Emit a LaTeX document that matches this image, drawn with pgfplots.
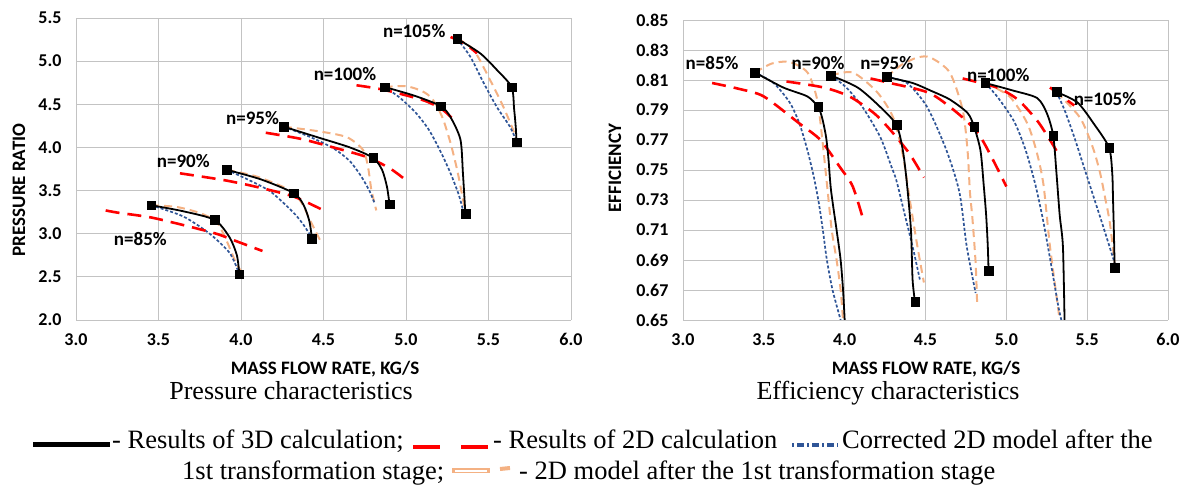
\documentclass[border=0pt]{standalone}
\usepackage{pgfplots}
\pgfplotsset{compat=1.18}
\usepackage{fontspec}
\setmainfont{Liberation Serif}
\newfontfamily\calib{Carlito}
\definecolor{gridgray}{RGB}{195,195,195}
\definecolor{cblue}{RGB}{47,85,151}
\definecolor{corange}{RGB}{244,177,131}
\definecolor{cred}{RGB}{255,0,0}
\tikzset{lbl/.style={font=\calib\bfseries\fontsize{19}{19}\selectfont, inner sep=0pt}}
\pgfplotsset{
  mystyle/.style={scale only axis, grid=major, grid style={gridgray, line width=0.9pt},
    axis line style={draw=none}, major tick length=0pt,
    tick label style={font=\calib\bfseries\fontsize{18}{18}\selectfont},
    /pgf/number format/assume math mode=true,
    xtick={3,3.5,4,4.5,5,5.5,6}, xmin=3, xmax=6,
    xticklabel style={yshift=-10pt, /pgf/number format/.cd, fixed, fixed zerofill, precision=1},
    yticklabel style={xshift=-11pt},
    clip=true},
  black3d/.style={black, line width=1.8pt, smooth, tension=0.45, no marks},
  red2d/.style={cred, line width=2.6pt, dash pattern=on 14pt off 8pt, smooth, tension=0.45, no marks},
  blue2d/.style={cblue, line width=1.7pt, dash pattern=on 3pt off 2pt, smooth, tension=0.45, no marks},
  orange2d/.style={corange, line width=2pt, dash pattern=on 8pt off 5pt, smooth, tension=0.45, no marks},
  sq/.style={only marks, mark=square*, mark size=4.3pt, black},
}
\begin{document}
\begin{tikzpicture}[x=1pt,y=1pt]
\useasboundingbox (0,0) rectangle (1188,489);
% ---------------- Pressure ----------------
\begin{axis}[mystyle, at={(76pt,169pt)}, anchor=south west, width=495pt, height=302pt,
  ymin=2, ymax=5.5, ytick={2,2.5,3,3.5,4,4.5,5,5.5},
  yticklabel style={/pgf/number format/.cd, fixed, fixed zerofill, precision=1}]
% orange
\addplot[orange2d] coordinates {(3.455,3.33)(3.61,3.31)(3.75,3.24)(3.85,3.14)(3.91,2.93)(3.97,2.66)(4.0,2.57)};
\addplot[orange2d] coordinates {(3.915,3.74)(4.1,3.66)(4.30,3.50)(4.37,3.35)(4.42,3.15)(4.48,2.92)};
\addplot[orange2d] coordinates {(4.26,4.24)(4.46,4.19)(4.64,4.12)(4.74,3.97)(4.77,3.77)(4.79,3.51)(4.82,3.27)};
\addplot[orange2d] coordinates {(4.87,4.70)(5.0,4.71)(5.1,4.65)(5.16,4.56)(5.22,4.35)(5.27,4.05)(5.31,3.74)(5.34,3.45)(5.36,3.25)};
\addplot[orange2d] coordinates {(5.31,5.26)(5.41,5.13)(5.51,4.78)(5.59,4.47)(5.65,4.20)(5.67,4.08)};
% blue
\addplot[blue2d] coordinates {(3.455,3.33)(3.65,3.20)(3.81,3.0)(3.93,2.78)(3.98,2.58)};
\addplot[blue2d] coordinates {(3.915,3.74)(4.05,3.62)(4.17,3.50)(4.25,3.37)(4.33,3.22)(4.38,3.10)(4.43,2.95)};
\addplot[blue2d] coordinates {(4.26,4.24)(4.42,4.12)(4.56,3.99)(4.66,3.84)(4.73,3.66)(4.78,3.49)(4.81,3.35)};
\addplot[blue2d] coordinates {(4.87,4.70)(4.96,4.58)(5.06,4.40)(5.14,4.20)(5.21,3.95)(5.27,3.70)(5.32,3.45)(5.35,3.24)};
\addplot[blue2d] coordinates {(5.31,5.26)(5.39,5.05)(5.47,4.75)(5.55,4.47)(5.63,4.24)(5.67,4.07)};
% red
\addplot[red2d] coordinates {(3.18,3.27)(3.25,3.245)(3.45,3.19)(3.65,3.10)(3.85,3.0)(3.99,2.90)(4.13,2.80)};
\addplot[red2d] coordinates {(3.63,3.70)(3.9,3.62)(4.10,3.54)(4.32,3.43)(4.50,3.27)};
\addplot[red2d] coordinates {(4.15,4.17)(4.36,4.10)(4.56,4.00)(4.76,3.89)(4.90,3.76)(5.0,3.62)};
\addplot[red2d] coordinates {(4.70,4.72)(4.86,4.67)(5.10,4.55)(5.22,4.44)(5.31,4.28)};
\addplot[red2d] coordinates {(5.27,5.28)(5.36,5.20)(5.43,5.09)};
% black
\addplot[black3d] coordinates {(3.455,3.33)(3.65,3.26)(3.84,3.16)(3.93,2.96)(3.975,2.75)(3.99,2.53)};
\addplot[black3d] coordinates {(3.915,3.74)(4.12,3.63)(4.32,3.47)(4.38,3.33)(4.415,3.14)(4.43,2.94)};
\addplot[black3d] coordinates {(4.26,4.24)(4.46,4.12)(4.66,4.00)(4.80,3.88)(4.855,3.74)(4.885,3.54)(4.90,3.34)};
\addplot[black3d] coordinates {(4.87,4.70)(5.05,4.60)(5.21,4.48)(5.27,4.35)(5.33,4.09)(5.345,3.70)(5.36,3.23)};
\addplot[black3d] coordinates {(5.31,5.26)(5.45,5.09)(5.55,4.90)(5.64,4.70)(5.655,4.45)(5.665,4.24)(5.67,4.06)};
\addplot[sq] coordinates {(3.455,3.33)(3.84,3.16)(3.99,2.53)(3.915,3.74)(4.32,3.47)(4.43,2.94)(4.26,4.24)(4.80,3.88)(4.90,3.34)(4.87,4.70)(5.21,4.48)(5.36,3.23)(5.31,5.26)(5.64,4.70)(5.67,4.06)};
\node[lbl] at (axis cs:5.05,5.35) {n=105\%};
\node[lbl] at (axis cs:4.63,4.85) {n=100\%};
\node[lbl] at (axis cs:4.07,4.34) {n=95\%};
\node[lbl] at (axis cs:3.65,3.84) {n=90\%};
\node[lbl] at (axis cs:3.39,2.94) {n=85\%};
\end{axis}
% ---------------- Efficiency ----------------
\begin{axis}[mystyle, at={(683pt,169pt)}, anchor=south west, width=485pt, height=300pt,
  ymin=0.65, ymax=0.85, ytick={0.65,0.67,0.69,0.71,0.73,0.75,0.77,0.79,0.81,0.83,0.85},
  yticklabel style={/pgf/number format/.cd, fixed, fixed zerofill, precision=2}]
% orange
\addplot[orange2d] coordinates {(3.445,0.815)(3.55,0.821)(3.66,0.822)(3.77,0.815)(3.83,0.797)(3.86,0.772)(3.89,0.741)(3.92,0.71)(3.95,0.69)(3.975,0.67)(3.99,0.65)};
\addplot[orange2d] coordinates {(3.915,0.813)(4.05,0.815)(4.2,0.802)(4.30,0.785)(4.36,0.76)(4.40,0.732)(4.45,0.699)(4.49,0.675)};
\addplot[orange2d] coordinates {(4.26,0.812)(4.35,0.82)(4.45,0.825)(4.53,0.825)(4.65,0.815)(4.73,0.79)(4.76,0.763)(4.775,0.735)(4.79,0.718)(4.81,0.688)(4.82,0.659)};
\addplot[orange2d] coordinates {(4.87,0.808)(5.02,0.799)(5.13,0.781)(5.19,0.761)(5.23,0.74)(5.27,0.699)(5.33,0.65)};
\addplot[orange2d] coordinates {(5.31,0.802)(5.455,0.785)(5.535,0.765)(5.58,0.748)(5.61,0.732)(5.64,0.715)(5.67,0.688)};
% blue
\addplot[blue2d] coordinates {(3.445,0.815)(3.56,0.808)(3.66,0.795)(3.72,0.781)(3.77,0.763)(3.81,0.745)(3.84,0.728)(3.865,0.71)(3.89,0.69)(3.925,0.67)(3.975,0.65)};
\addplot[blue2d] coordinates {(3.915,0.813)(4.01,0.805)(4.11,0.792)(4.22,0.772)(4.29,0.752)(4.32,0.743)(4.37,0.721)(4.42,0.699)(4.465,0.677)};
\addplot[blue2d] coordinates {(4.26,0.812)(4.385,0.808)(4.51,0.792)(4.63,0.763)(4.71,0.735)(4.755,0.699)(4.81,0.668)};
\addplot[blue2d] coordinates {(4.87,0.808)(4.95,0.798)(5.05,0.782)(5.12,0.763)(5.18,0.74)(5.23,0.715)(5.28,0.685)(5.32,0.66)(5.34,0.65)};
\addplot[blue2d] coordinates {(5.31,0.802)(5.36,0.79)(5.42,0.772)(5.48,0.752)(5.54,0.732)(5.60,0.712)(5.67,0.688)};
% red
\addplot[red2d] coordinates {(3.18,0.808)(3.35,0.804)(3.50,0.799)(3.72,0.781)(3.85,0.77)(3.97,0.752)(4.05,0.739)(4.12,0.715)};
\addplot[red2d] coordinates {(3.64,0.809)(3.87,0.805)(4.03,0.799)(4.18,0.788)(4.28,0.777)(4.40,0.761)(4.49,0.745)};
\addplot[red2d] coordinates {(4.16,0.811)(4.28,0.808)(4.53,0.801)(4.73,0.785)(4.84,0.772)(4.94,0.752)(5.0,0.739)};
\addplot[red2d] coordinates {(4.73,0.811)(4.94,0.805)(5.07,0.797)(5.19,0.783)(5.27,0.77)(5.32,0.761)};
\addplot[red2d] coordinates {(5.27,0.805)(5.42,0.793)};
% black
\addplot[black3d] coordinates {(3.445,0.815)(3.62,0.805)(3.77,0.799)(3.835,0.792)(3.86,0.785)(3.885,0.772)(3.90,0.757)(3.915,0.737)(3.95,0.71)(3.975,0.69)(3.99,0.67)(4.0,0.65)};
\addplot[black3d] coordinates {(3.915,0.813)(4.08,0.805)(4.22,0.792)(4.32,0.78)(4.36,0.763)(4.385,0.741)(4.41,0.71)(4.42,0.677)(4.435,0.662)};
\addplot[black3d] coordinates {(4.26,0.812)(4.42,0.808)(4.53,0.803)(4.65,0.797)(4.76,0.788)(4.80,0.779)(4.84,0.763)(4.86,0.74)(4.875,0.72)(4.885,0.70)(4.89,0.683)};
\addplot[black3d] coordinates {(4.87,0.808)(5.04,0.803)(5.19,0.798)(5.25,0.788)(5.29,0.773)(5.31,0.748)(5.33,0.72)(5.35,0.699)(5.36,0.65)};
\addplot[black3d] coordinates {(5.31,0.802)(5.44,0.795)(5.54,0.781)(5.635,0.765)(5.655,0.748)(5.66,0.73)(5.665,0.71)(5.67,0.685)};
\addplot[sq] coordinates {(3.445,0.815)(3.835,0.792)(3.915,0.813)(4.32,0.78)(4.435,0.662)(4.26,0.812)(4.80,0.779)(4.89,0.683)(4.87,0.808)(5.29,0.773)(5.31,0.802)(5.635,0.765)(5.67,0.685)};
\node[lbl] at (axis cs:3.18,0.821) {n=85\%};
\node[lbl] at (axis cs:3.835,0.821) {n=90\%};
\node[lbl] at (axis cs:4.26,0.821) {n=95\%};
\node[lbl] at (axis cs:4.95,0.813) {n=100\%};
\node[lbl] at (axis cs:5.61,0.797) {n=105\%};
\end{axis}
% axis titles
\node[font=\calib\bfseries\fontsize{19}{19}\selectfont] at (325,120) {MASS FLOW RATE, KG/S};
\node[font=\calib\bfseries\fontsize{19}{19}\selectfont] at (926,120) {MASS FLOW RATE, KG/S};
\node[font=\calib\bfseries\fontsize{19}{19}\selectfont, rotate=90] at (19,299) {PRESSURE RATIO};
\node[font=\calib\bfseries\fontsize{19}{19}\selectfont, rotate=90] at (615,321) {EFFICIENCY};
% captions
\node[anchor=base, font=\fontsize{26}{26}\selectfont, inner sep=0pt] at (291,89) {Pressure characteristics};
\node[anchor=base, font=\fontsize{26}{26}\selectfont, inner sep=0pt] at (888,89) {Efficiency characteristics};
% legend
\draw[black, line width=5pt] (33,44) -- (110,44);
\node[anchor=base west, font=\fontsize{26.5}{26.5}\selectfont, inner sep=0pt] at (112,40) {- Results of 3D calculation;};
\draw[cred, line width=4pt] (413,42) -- (440,42);
\draw[cred, line width=4pt] (461,42) -- (488,42);
\node[anchor=base west, font=\fontsize{26.5}{26.5}\selectfont, inner sep=0pt] at (493,40) {- Results of 2D calculation};
\draw[cblue, line width=3.5pt, dash pattern=on 2pt off 3pt on 7pt off 3pt] (792,44) -- (838,44);
\node[anchor=base west, font=\fontsize{26.5}{26.5}\selectfont, inner sep=0pt] at (842,40) {Corrected 2D model after the};
\node[anchor=base west, font=\fontsize{26.5}{26.5}\selectfont, inner sep=0pt] at (182,9) {1st transformation stage;};
\draw[corange, line width=5pt] (452,18) -- (490,18);
\draw[white, line width=1.6pt] (455,18) -- (487,18);
\draw[corange, line width=4pt] (500,20) -- (510,21);
\node[anchor=base west, font=\fontsize{26.5}{26.5}\selectfont, inner sep=0pt] at (519,9) {- 2D model after the 1st transformation stage};
\end{tikzpicture}
\end{document}
